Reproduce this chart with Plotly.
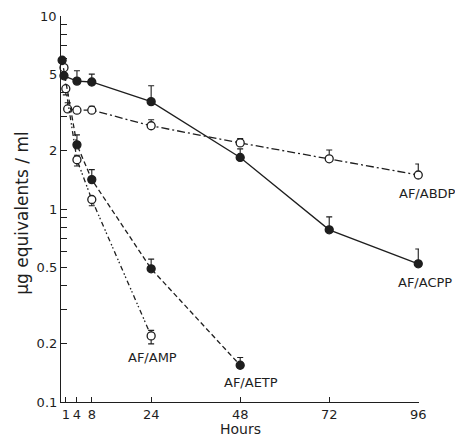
import math
import plotly.graph_objects as go

# ---- data ----
acpp_t = [0.5, 4, 8, 24, 48, 72, 96]
acpp_v = [4.9, 4.6, 4.55, 3.6, 1.85, 0.78, 0.52]
acpp_up = [0.0, 0.6, 0.45, 0.75, 0.2, 0.13, 0.1]

abdp_t = [1.5, 4, 8, 24, 48, 72, 96]
abdp_v = [3.3, 3.25, 3.25, 2.7, 2.2, 1.82, 1.5]
abdp_up = [0.25, 0.0, 0.15, 0.2, 0.12, 0.2, 0.21]
abdp_dn = [0.0, 0.0, 0.0, 0.0, 0.0, 0.0, 0.0]

aetp_t = [0, 4, 8, 24, 48]
aetp_v = [5.9, 2.15, 1.42, 0.49, 0.155]
aetp_up = [0.0, 0.27, 0.18, 0.06, 0.015]

amp_t = [0.5, 1, 4, 8, 24]
amp_v = [5.4, 4.2, 1.8, 1.12, 0.22]
amp_up = [0.0, 0.0, 0.1, 0.0, 0.015]
amp_dn = [0.0, 0.3, 0.13, 0.08, 0.02]

x_ticks = [1, 4, 8, 24, 48, 72, 96]
y_labelled = {0.1: "0.1", 0.2: "0.2", 0.5: "0.5", 1: "1", 2: "2", 5: "5"}
y_top_label = "10"

labels = ["AF/ABDP", "AF/ACPP", "AF/AMP", "AF/AETP"]
label_t = [90.5, 90.3, 17.5, 43.5]
label_v = [1.21, 0.417, 0.171, 0.126]

x_title = "Hours"
y_title = "μg equivalents / ml"

# ---- figure ----
INK = "#1e1e1e"
FONT = "DejaVu Sans"
fig = go.Figure()

def series(t, v, up, dn, filled, dash):
    err = dict(type="data", symmetric=False, array=up,
               arrayminus=dn if dn is not None else [0] * len(up),
               color=INK, thickness=1.1, width=3)
    fig.add_trace(go.Scatter(
        x=t, y=v, mode="lines+markers",
        line=dict(color=INK, width=1.3, dash=dash),
        marker=dict(size=8, symbol="circle",
                    color=INK if filled else "white",
                    line=dict(color=INK, width=1.3)),
        error_y=err, cliponaxis=False, showlegend=False))

series(abdp_t, abdp_v, abdp_up, abdp_dn, False, "8px,3px,2px,3px")
series(amp_t, amp_v, amp_up, amp_dn, False, "5px,3px,1.5px,2px,1.5px,3px")
series(aetp_t, aetp_v, aetp_up, None, True, "5px,3px")
series(acpp_t, acpp_v, acpp_up, None, True, "solid")

for txt, t, v in zip(labels, label_t, label_v):
    fig.add_annotation(x=t, y=math.log10(v), xref="x", yref="y", text=txt,
                       showarrow=False, xanchor="left", yanchor="middle",
                       borderpad=0, font=dict(size=13, color=INK, family=FONT))

# top y tick label (plotly hides it at the figure edge, so draw it as text)
fig.add_annotation(x=0, y=1, xref="paper", yref="paper", text=y_top_label,
                   showarrow=False, xanchor="right", yanchor="middle", xshift=-3,
                   borderpad=0, font=dict(size=13, color=INK, family=FONT))

# axis titles as annotations (exact placement)
fig.add_annotation(x=0.5, y=-0.0933, xref="paper", yref="paper", text=x_title,
                   showarrow=False, xanchor="center", yanchor="bottom",
                   borderpad=0, font=dict(size=14, color=INK, family=FONT))
fig.add_annotation(x=-0.109, y=0.49, xref="paper", yref="paper", text=y_title,
                   showarrow=False, xanchor="center", yanchor="middle", textangle=-90,
                   borderpad=0, font=dict(size=17, color=INK, family=FONT))

ytv, ytt = [], []
for e in (-1, 0):
    for d in range(1, 10):
        val = round(d * 10 ** e, 3)
        ytv.append(val)
        ytt.append(y_labelled.get(val, ""))
ytv.append(10)
ytt.append("")

# the page body adds an 8px offset, so the figure is 8px smaller than the window
fig.update_layout(
    template="none",
    width=455, height=430,
    margin=dict(l=53, r=44, t=8, b=36, pad=0),
    paper_bgcolor="white", plot_bgcolor="white",
    font=dict(family=FONT, color=INK),
    xaxis=dict(range=[-0.3, 96.2], tickvals=x_ticks,
               ticktext=[str(v) for v in x_ticks], automargin=False,
               ticks="inside", ticklen=5, tickcolor=INK, tickwidth=1,
               showline=True, linecolor=INK, linewidth=1.2,
               showgrid=False, zeroline=False,
               tickfont=dict(size=13)),
    yaxis=dict(type="log", range=[-1, 1], tickvals=ytv, ticktext=ytt,
               automargin=False,
               ticks="inside", ticklen=6, tickcolor=INK, tickwidth=1,
               showline=True, linecolor=INK, linewidth=1.2,
               showgrid=False, zeroline=False,
               tickfont=dict(size=13)),
)

fig.write_html("out.html")
